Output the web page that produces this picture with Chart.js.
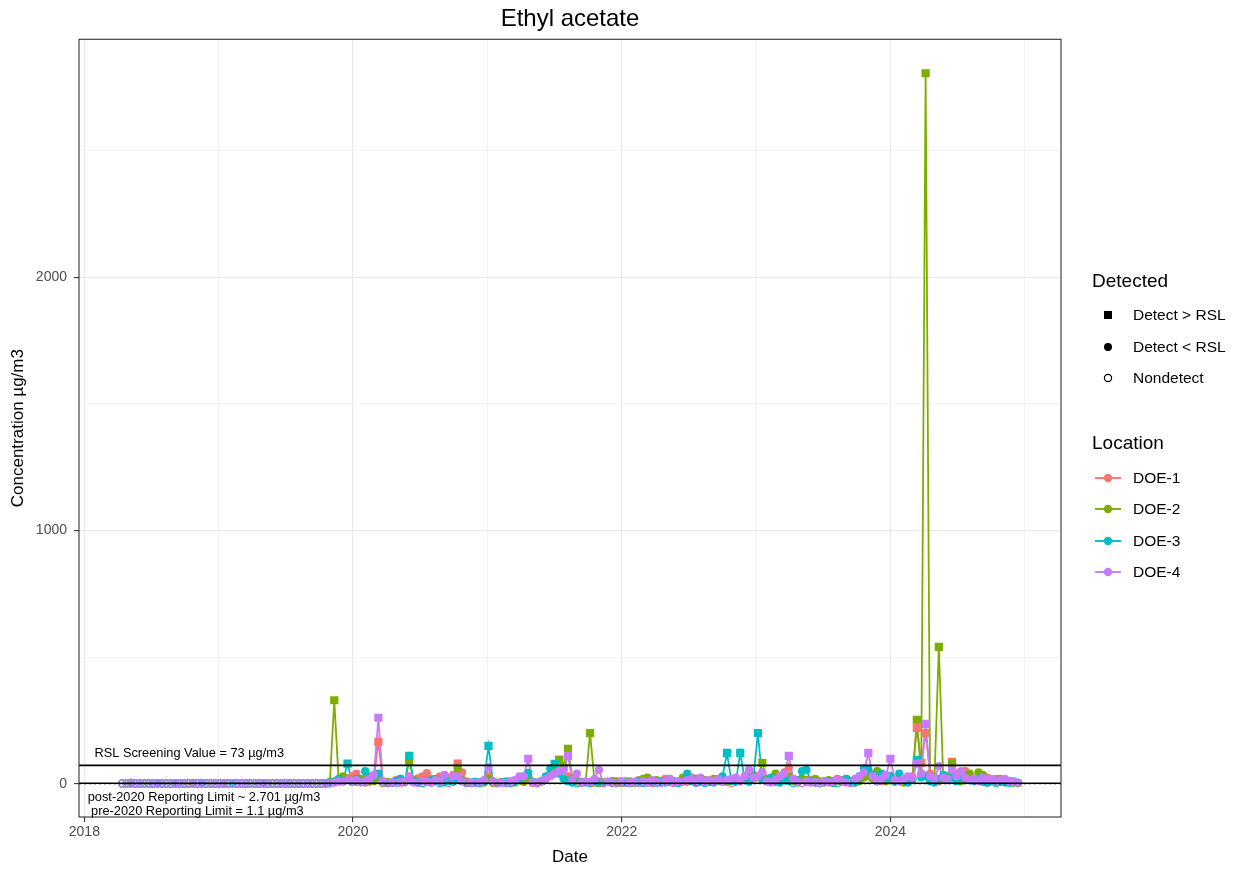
<!DOCTYPE html>
<html>
<head>
<meta charset="utf-8">
<script src="https://cdn.jsdelivr.net/npm/chart.js@4.4.1/dist/chart.umd.min.js"></script>
<style>
  html, body { margin: 0; padding: 0; background: #ffffff; }
  #wrap { position: relative; width: 1241px; height: 873px; overflow: hidden; }
  #c { position: absolute; left: 0; top: 0; }
  .lg { position: absolute; font-family: "Liberation Sans", Arial, sans-serif; color: #000; white-space: nowrap; }
  .lgt { font-size: 19px; height: 24px; line-height: 24px; }
  .lgi { font-size: 15.5px; height: 20px; line-height: 20px; }
  svg.key { position: absolute; overflow: visible; }
</style>
</head>
<body>
<div id="wrap">
  <canvas id="c" width="1241" height="873"></canvas>
  <div id="legend"></div>
</div>
<script>
// ---------------- DATA ----------------
const ND = 'ND';
const dates = [
  // 2018
  '2018-04-14','2018-04-26','2018-05-08','2018-05-20','2018-06-01','2018-06-13','2018-06-25','2018-07-07','2018-07-19','2018-07-31',
  '2018-08-12','2018-08-24','2018-09-05','2018-09-17','2018-09-29','2018-10-11','2018-10-23','2018-11-04','2018-11-16','2018-11-28',
  '2018-12-10','2018-12-22',
  // 2019
  '2019-01-03','2019-01-15','2019-01-27','2019-02-08','2019-02-20','2019-03-04','2019-03-16','2019-03-28','2019-04-09','2019-04-21',
  '2019-05-03','2019-05-15','2019-05-27','2019-06-08','2019-06-20','2019-07-02','2019-07-14','2019-07-26','2019-08-07','2019-08-19',
  '2019-08-31','2019-09-12','2019-09-24','2019-10-06','2019-10-18','2019-10-30','2019-11-11','2019-11-23','2019-12-05','2019-12-17',
  '2019-12-29',
  // 2020
  '2020-01-10','2020-01-22','2020-02-03','2020-02-15','2020-02-27','2020-03-10','2020-03-22','2020-04-03','2020-04-15','2020-04-27',
  '2020-05-09','2020-05-21','2020-06-02','2020-06-14','2020-06-26','2020-07-08','2020-07-20','2020-08-01','2020-08-13','2020-08-25',
  '2020-09-06','2020-09-18','2020-09-30','2020-10-12','2020-10-24','2020-11-05','2020-11-17','2020-11-29','2020-12-11','2020-12-23',
  // 2021
  '2021-01-04','2021-01-16','2021-01-28','2021-02-09','2021-02-21','2021-03-05','2021-03-17','2021-03-29','2021-04-10','2021-04-22',
  '2021-05-04','2021-05-16','2021-05-28','2021-06-09','2021-06-21','2021-07-03','2021-07-15','2021-07-27','2021-08-08','2021-08-20',
  '2021-09-01','2021-09-13','2021-09-25','2021-10-07','2021-10-19','2021-10-31','2021-11-12','2021-11-24','2021-12-06','2021-12-18',
  '2021-12-30',
  // 2022
  '2022-01-11','2022-01-23','2022-02-04','2022-02-16','2022-02-28','2022-03-12','2022-03-24','2022-04-05','2022-04-17','2022-04-29',
  '2022-05-11','2022-05-23','2022-06-04','2022-06-16','2022-06-28','2022-07-10','2022-07-22','2022-08-03','2022-08-15','2022-08-27',
  '2022-09-08','2022-09-20','2022-10-02','2022-10-14','2022-10-26','2022-11-07','2022-11-19','2022-12-01','2022-12-13','2022-12-25',
  // 2023
  '2023-01-06','2023-01-18','2023-01-30','2023-02-11','2023-02-23','2023-03-07','2023-03-19','2023-03-31','2023-04-12','2023-04-24',
  '2023-05-06','2023-05-18','2023-05-30','2023-06-11','2023-06-23','2023-07-05','2023-07-17','2023-07-29','2023-08-10','2023-08-22',
  '2023-09-03','2023-09-15','2023-09-27','2023-10-09','2023-10-21','2023-11-02','2023-11-14','2023-11-26','2023-12-08','2023-12-20',
  // 2024
  '2024-01-01','2024-01-13','2024-01-25','2024-02-06','2024-02-18','2024-03-01','2024-03-13','2024-03-25','2024-04-06','2024-04-18',
  '2024-04-30','2024-05-12','2024-05-24','2024-06-05','2024-06-17','2024-06-29','2024-07-11','2024-07-23','2024-08-04','2024-08-16',
  '2024-08-28','2024-09-09','2024-09-21','2024-10-03','2024-10-15','2024-10-27','2024-11-08','2024-11-20','2024-12-02','2024-12-14'
];

const doe1 = [
  ND,ND,ND,ND,ND,ND,ND,ND,ND,ND, ND,ND,ND,ND,ND,ND,3.5,ND,ND,ND, ND,ND,
  ND,2.8,ND,ND,ND,ND,ND,ND,ND,ND, ND,ND,ND,ND,ND,ND,ND,ND,ND,ND, ND,ND,ND,ND,ND,4,6,10,14,22, 30,
  40,12,20,8,25,166,10,6,ND,15, ND,8,30,12,22,30,42,20,15,30, 10,25,35,80,45,10,5,ND,ND,8,
  30,8,ND,5,10,ND,12,20,8,30, ND,6,10,25,40,55,95,60,30,15, 10,ND,8,5,ND,10,6,8,12,5, ND,
  10,ND,8,15,5,10,ND,12,8,20, 6,ND,10,15,8,25,ND,12,5,8, 10,20,8,15,ND,10,12,30,45,20,
  25,40,10,20,35,15,45,65,20,10, ND,8,15,5,ND,10,8,12,20,15, 10,ND,8,20,30,40,25,15,10,20,
  30,8,15,10,20,30,221,83,200,40, 20,10,25,15,87,40,25,50,35,20, 15,10,25,15,20,10,8,12,5,ND
];
const doe2 = [
  ND,ND,5,ND,ND,ND,ND,ND,ND,ND, ND,ND,3,ND,ND,ND,ND,ND,ND,ND, ND,ND,
  ND,ND,ND,ND,ND,ND,ND,ND,ND,ND, 3,ND,ND,ND,ND,ND,ND,ND,ND,ND, ND,ND,ND,ND,3,8,330,10,30,15, 8,
  8,20,5,30,10,25,ND,8,5,10, 20,6,91,15,8,ND,10,5,20,8, 12,ND,30,60,15,5,ND,8,ND,5,
  20,ND,5,8,ND,10,5,15,8,25, 6,ND,10,20,35,45,95,70,138,20, 10,5,8,200,10,ND,5,8,ND,10, 5,
  5,10,ND,8,20,25,10,15,8,12, 20,10,5,25,30,15,20,10,15,8, 20,12,10,8,15,20,10,15,40,35,
  30,83,20,10,40,25,15,30,10,5, 20,15,8,20,10,5,15,ND,10,8, 20,12,5,10,25,30,20,50,35,10,
  20,10,15,5,10,20,253,40,2806,20, 15,541,20,30,80,20,10,30,40,15, 45,35,5,15,8,20,10,8,5,ND
];
const doe3 = [
  ND,ND,ND,ND,ND,ND,ND,ND,3,ND, ND,ND,ND,ND,ND,ND,ND,ND,4,ND, ND,ND,
  ND,ND,ND,3,ND,ND,ND,ND,ND,ND, ND,ND,ND,ND,ND,ND,ND,ND,ND,ND, ND,ND,ND,ND,ND,5,10,20,12,80, 8,
  20,10,50,15,30,40,8,ND,5,10, 20,8,110,10,5,ND,8,15,10,ND, 5,10,8,20,10,ND,5,8,ND,10,
  150,10,ND,5,8,ND,10,20,30,43, 8,ND,10,30,60,79,40,20,10,5, ND,8,5,ND,10,5,ND,8,5,ND, 10,
  5,ND,8,10,ND,5,8,ND,10,5, 15,8,ND,10,40,10,5,8,ND,10, 5,15,30,122,10,8,122,20,8,30,
  200,15,10,25,8,5,20,10,ND,15, 50,55,10,5,ND,8,10,5,ND,12, 20,8,5,30,60,55,35,10,40,15,
  30,10,40,20,5,15,95,25,30,10, 5,20,35,15,25,10,30,20,15,10, 20,8,5,10,ND,8,5,ND,10,5
];
const doe4 = [
  ND,ND,ND,ND,ND,ND,ND,ND,ND,ND, ND,ND,ND,ND,ND,ND,ND,ND,ND,ND, ND,ND,
  ND,ND,ND,ND,ND,ND,ND,ND,ND,ND, ND,ND,ND,ND,ND,ND,ND,ND,ND,ND, ND,ND,ND,ND,ND,ND,5,10,8,15, 10,
  15,5,10,20,35,261,10,ND,5,ND, 8,10,28,5,ND,10,8,5,15,10, 35,ND,30,30,10,ND,5,ND,8,15,
  65,10,ND,5,ND,8,15,30,30,99, 5,ND,8,20,30,40,50,55,110,15, 40,5,10,8,20,55,ND,8,5,ND, 10,
  ND,5,8,ND,10,5,15,8,ND,10, 20,5,10,8,15,20,10,25,8,15, 10,20,8,15,20,25,10,30,55,25,
  30,45,10,5,15,30,40,110,20,8, ND,10,5,8,ND,10,5,8,15,10, 5,ND,20,30,45,122,30,10,20,35,
  99,15,10,20,30,25,80,40,237,30, 20,70,25,20,55,30,50,25,15,20, 10,25,15,20,10,15,20,10,8,5
];

const locations = ['DOE-1', 'DOE-2', 'DOE-3', 'DOE-4'];
const locationColors = ['#F8766D', '#7CAE00', '#00BFC4', '#C77CFF'];
const detectedLevels = ['Detect > RSL', 'Detect < RSL', 'Nondetect'];
const RSL = 73;
const RL_POST_2020 = 2.701;
const RL_PRE_2020 = 1.1;
const xTickYears = [2018, 2019, 2020, 2021, 2022, 2023, 2024, 2025];
const xLabelYears = [2018, 2020, 2022, 2024];
const yTickValues = [0, 500, 1000, 1500, 2000, 2500];
const yLabelValues = [0, 1000, 2000];
const annotations = [
  { text: 'RSL Screening Value = 73 \u00b5g/m3', x: 2018.075, y: 120 },
  { text: 'post-2020 Reporting Limit ~ 2.701 \u00b5g/m3', x: 2018.025, y: -55 },
  { text: 'pre-2020 Reporting Limit = 1.1 \u00b5g/m3', x: 2018.05, y: -110 }
];

// ---------------- LAYOUT / STYLE ----------------
const X_MIN = 2017.96, X_MAX = 2025.27;
const Y_MIN = -131, Y_MAX = 2940;
const FONT = '"Liberation Sans", Arial, Helvetica, sans-serif';

function toYear(s) {
  const [y, m, d] = s.split('-').map(Number);
  const t0 = Date.UTC(y, 0, 1), t1 = Date.UTC(y + 1, 0, 1);
  return y + (Date.UTC(y, m - 1, d) - t0) / (t1 - t0);
}

const seriesValues = [doe1, doe2, doe3, doe4];
const points = seriesValues.map(vals => dates.map((d, i) => {
  const x = toYear(d);
  const nd = vals[i] === ND;
  return { x: x, y: nd ? (x < 2020 ? RL_PRE_2020 : RL_POST_2020) : vals[i], nd: nd };
}));

function status(r) { return r.nd ? 'Nondetect' : (r.y > RSL ? 'Detect > RSL' : 'Detect < RSL'); }

const datasets = [];
datasets.push({ data: [{ x: X_MIN, y: RSL }, { x: X_MAX, y: RSL }], showLine: true, borderColor: '#000', borderWidth: 1.8, pointRadius: 0, order: 0 });
datasets.push({ data: [{ x: X_MIN, y: RL_POST_2020 }, { x: X_MAX, y: RL_POST_2020 }], showLine: true, borderColor: '#000', borderWidth: 1.5, pointRadius: 0, order: 0 });
datasets.push({ data: [{ x: X_MIN, y: RL_PRE_2020 }, { x: X_MAX, y: RL_PRE_2020 }], showLine: true, borderColor: '#000', borderWidth: 1.3, borderDash: [2, 3], pointRadius: 0, order: 0 });

locations.forEach((loc, k) => {
  const col = locationColors[k];
  datasets.push({
    label: loc + ' points',
    data: points[k],
    showLine: false,
    order: 1 + (3 - k),
    pointStyle: ctx => (ctx.raw && status(ctx.raw) === 'Detect > RSL') ? 'rect' : 'circle',
    pointRadius: ctx => !ctx.raw ? 4 : (status(ctx.raw) === 'Detect > RSL' ? 5.8 : (ctx.raw.nd ? 3.6 : 4.1)),
    pointBackgroundColor: ctx => (ctx.raw && ctx.raw.nd) ? 'rgba(0,0,0,0)' : col,
    pointBorderColor: col,
    pointBorderWidth: ctx => (ctx.raw && ctx.raw.nd) ? 1.2 : 0
  });
  datasets.push({
    label: loc,
    data: points[k],
    showLine: true,
    borderColor: col,
    borderWidth: 1.8,
    pointRadius: 0,
    order: 5 + (3 - k)
  });
});

const panelPlugin = {
  id: 'panel',
  afterDatasetsDraw(chart) {
    const { ctx, chartArea: a, scales: { x, y } } = chart;
    ctx.save();
    ctx.font = '12.8px ' + FONT;
    ctx.fillStyle = '#000';
    ctx.textAlign = 'left';
    ctx.textBaseline = 'middle';
    annotations.forEach(t => ctx.fillText(t.text, x.getPixelForValue(t.x), y.getPixelForValue(t.y)));
    ctx.strokeStyle = '#333333';
    ctx.lineWidth = 1.1;
    ctx.strokeRect(a.left, a.top, a.right - a.left, a.bottom - a.top);
    ctx.restore();
  }
};

const isMajorX = v => xLabelYears.includes(v);
const isMajorY = v => yLabelValues.includes(v);

new Chart(document.getElementById('c'), {
  type: 'scatter',
  data: { datasets: datasets },
  plugins: [panelPlugin],
  options: {
    responsive: false,
    animation: false,
    events: [],
    layout: { padding: { left: 0, right: 180, top: 0, bottom: 0 } },
    plugins: {
      legend: { display: false },
      tooltip: { enabled: false },
      title: {
        display: true, text: 'Ethyl acetate', fullSize: false, color: '#000',
        font: { family: FONT, size: 24, weight: 'normal' },
        padding: { top: 5, bottom: 5.5 }
      }
    },
    scales: {
      x: {
        type: 'linear', min: X_MIN, max: X_MAX,
        afterBuildTicks: s => { s.ticks = xTickYears.map(v => ({ value: v })); },
        afterFit: s => { s.height = 56; },
        border: { display: false },
        grid: {
          color: c => isMajorX(c.tick && c.tick.value) ? '#EAEAEA' : '#F0F0F0',
          lineWidth: c => isMajorX(c.tick && c.tick.value) ? 1.2 : 0.9,
          tickLength: 5,
          tickColor: c => isMajorX(c.tick && c.tick.value) ? '#333333' : 'rgba(0,0,0,0)',
          tickWidth: 1.1
        },
        ticks: {
          autoSkip: false, maxRotation: 0, padding: 2, color: '#4D4D4D',
          font: { family: FONT, size: 14 },
          callback: v => isMajorX(v) ? String(v) : ''
        },
        title: { display: true, text: 'Date', color: '#000', font: { family: FONT, size: 17 }, padding: { top: 0, bottom: 5 } }
      },
      y: {
        type: 'linear', min: Y_MIN, max: Y_MAX,
        afterBuildTicks: s => { s.ticks = yTickValues.map(v => ({ value: v })); },
        afterFit: s => { s.width = 79; },
        border: { display: false },
        grid: {
          color: c => isMajorY(c.tick && c.tick.value) ? '#EAEAEA' : '#F0F0F0',
          lineWidth: c => isMajorY(c.tick && c.tick.value) ? 1.2 : 0.9,
          tickLength: 5,
          tickColor: c => isMajorY(c.tick && c.tick.value) ? '#333333' : 'rgba(0,0,0,0)',
          tickWidth: 1.1
        },
        ticks: {
          autoSkip: false, padding: 7, color: '#4D4D4D',
          font: { family: FONT, size: 14 },
          callback: v => isMajorY(v) ? String(v) : ''
        },
        title: { display: true, text: 'Concentration \u00b5g/m3', color: '#000', font: { family: FONT, size: 17 }, padding: { top: 8, bottom: 0 } }
      }
    }
  }
});

// ---------------- LEGEND (HTML) ----------------
(function buildLegend() {
  const L = document.getElementById('legend');
  const NS = 'http://www.w3.org/2000/svg';
  function text(cls, str, left, cy, h) {
    const d = document.createElement('div');
    d.className = 'lg ' + cls;
    d.textContent = str;
    d.style.left = left + 'px';
    d.style.top = (cy - h / 2) + 'px';
    L.appendChild(d);
  }
  function svgAt(cx, cy, inner) {
    const s = document.createElementNS(NS, 'svg');
    s.setAttribute('class', 'key');
    s.setAttribute('width', '30'); s.setAttribute('height', '20');
    s.style.left = (cx - 15) + 'px'; s.style.top = (cy - 10) + 'px';
    s.innerHTML = inner;
    L.appendChild(s);
  }
  text('lgt', 'Detected', 1092, 281, 24);
  const dRows = [315, 347, 378];
  detectedLevels.forEach((lv, i) => {
    let inner;
    if (lv === 'Detect > RSL') inner = '<rect x="11" y="6" width="8" height="8" fill="#000"/>';
    else if (lv === 'Detect < RSL') inner = '<circle cx="15" cy="10" r="4" fill="#000"/>';
    else inner = '<circle cx="15" cy="10" r="3.6" fill="none" stroke="#000" stroke-width="1.2"/>';
    svgAt(1107.5, dRows[i], inner);
    text('lgi', lv, 1133, dRows[i], 20);
  });
  text('lgt', 'Location', 1092, 443, 24);
  const lRows = [478, 509, 541, 572];
  locations.forEach((loc, i) => {
    const col = locationColors[i];
    svgAt(1107.5, lRows[i], '<line x1="2" y1="10" x2="28" y2="10" stroke="' + col + '" stroke-width="1.9"/><circle cx="15" cy="10" r="4.2" fill="' + col + '"/>');
    text('lgi', loc, 1133, lRows[i], 20);
  });
})();
</script>
</body>
</html>
